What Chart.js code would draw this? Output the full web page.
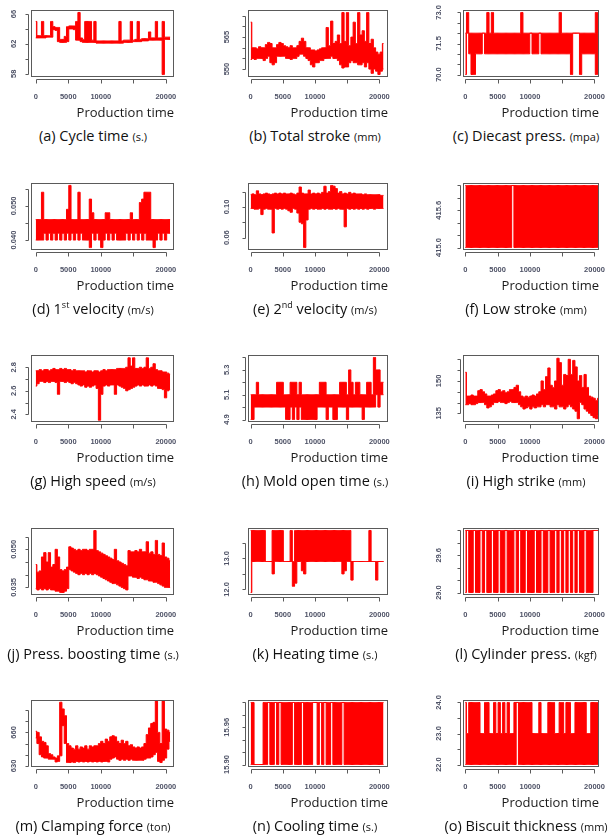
<!DOCTYPE html>
<html>
<head>
<meta charset="utf-8">
<script src="https://cdn.jsdelivr.net/npm/chart.js@4.4.1/dist/chart.umd.min.js"></script>
<style>
  html, body { margin: 0; padding: 0; background: #fff; }
  body { width: 608px; height: 839px; position: relative; overflow: hidden; font-family: "Open Sans", sans-serif; }
  canvas.panel { position: absolute; }
  .cap { position: absolute; width: 240px; text-align: center; font-size: 14.5px; color: #111; white-space: nowrap; line-height: 18px; }
  .cap small { font-size: 11px; }
  .cap sup { font-size: 9px; vertical-align: 6px; line-height: 0; }
</style>
</head>
<body>
<script>
const RED = '#ff0000';
const AXIS = '#5a5a5a';
const TICK_COLOR = '#4e5266';

// production time between two stored samples (each sample = min/max of that stretch)
const timeStep = 350;
const xTicks = [0, 5000, 10000, 15000, 20000];
const xTickLabels = ['0', '5000', '10000', '', '20000'];

// (a) cycle time
const aLow = [62.8, 62.8, 62.8, 62.8, 62.8, 62.9, 62.9, 62.9, 63.9, 63.8,
  62.3, 62.2, 62.2, 62.2, 62.3, 64.0, 64.0, 63.9, 62.5, 62.5,
  62.3, 62.2, 62.2, 62.2, 62.2, 62.2, 62.2, 62.1, 62.1, 62.1,
  62.1, 62.1, 62.1, 62.1, 62.1, 62.1, 62.1, 62.1, 62.1, 62.2,
  62.2, 62.2, 62.2, 62.3, 62.3, 62.3, 62.3, 62.4, 62.4, 62.4,
  62.5, 62.5, 62.5, 62.5, 62.5, 62.5, 57.9, 62.6, 62.6, 62.6];
const aHigh = [65.0, 63.1, 63.1, 65.0, 63.1, 63.1, 63.1, 65.0, 64.3, 64.2,
  64.2, 62.6, 62.6, 63.0, 64.3, 64.4, 64.4, 64.4, 65.0, 66.2,
  62.8, 62.6, 65.0, 65.0, 65.0, 62.5, 65.0, 62.4, 62.4, 62.4,
  62.4, 62.4, 62.4, 62.4, 62.4, 62.4, 62.4, 65.0, 62.4, 62.5,
  62.5, 62.5, 65.0, 62.5, 62.6, 65.0, 62.6, 62.7, 62.7, 62.7,
  63.6, 62.8, 62.8, 65.0, 62.8, 62.8, 65.0, 62.9, 62.9, 62.9];
const aTicks = [58, 60, 62, 64, 66];
const aTickLabels = ['58', '', '62', '', '66'];

// (b) total stroke
const bLow = [554.5, 555, 554.5, 555, 555, 555, 554, 555, 556, 553,
  552, 553, 556, 556, 556, 556, 555, 555, 554.5, 555,
  555, 556, 557, 557, 556, 555, 554, 552, 551, 553,
  553, 554, 554, 555, 555, 555, 556, 555, 555, 554,
  552, 550.5, 551, 551, 553, 554, 553, 553, 552, 552,
  553, 551, 553, 550, 548, 550, 549, 547.5, 549, 550];
const bHigh = [572, 560, 560, 559.5, 560.5, 560, 560, 561.5, 562.5, 562,
  560, 560, 561.5, 562.5, 562, 561, 560.5, 560, 561, 560,
  560, 561, 563, 564.5, 563, 560, 560, 559, 559, 558.5,
  559, 559.5, 560, 560, 569.5, 561, 572.5, 562, 563, 566,
  562, 576.5, 563, 576.5, 561, 565, 572, 562, 576.5, 566,
  568, 563, 576.5, 562, 564, 560, 558, 557, 558, 562];
const bTicks = [550, 555, 560, 565, 570, 575];
const bTickLabels = ['550', '', '', '565', '', ''];

// (c) diecast pressure
const cLow = [70, 72, 71, 70, 70, 71, 71, 71, 72, 71,
  71, 71, 71, 71, 71, 71, 71, 71, 71, 71,
  71, 71, 71, 71, 71, 71, 71, 71, 71, 72,
  71, 71, 71, 72, 71, 71, 71, 71, 71, 71,
  71, 71, 71, 71, 71, 71, 71, 70, 72, 72,
  72, 70, 71, 71, 71, 71, 71, 71, 70, 72];
const cHigh = [72, 73, 72, 72, 72, 72, 72, 72, 72, 72,
  73, 72, 73, 72, 72, 72, 72, 72, 72, 72,
  72, 72, 72, 72, 72, 73, 72, 72, 72, 72,
  72, 72, 72, 72, 72, 72, 72, 72, 72, 72,
  72, 72, 73, 72, 72, 72, 72, 72, 72, 72,
  72, 72, 72, 72, 72, 72, 72, 72, 73, 72];
const cTicks = [70, 70.5, 71, 71.5, 72, 72.5, 73];
const cTickLabels = ['70.0', '', '', '71.5', '', '', '73.0'];

// (d) 1st velocity
const dLow = [0.040, 0.040, 0.040, 0.040, 0.042, 0.040, 0.042, 0.040, 0.042, 0.040,
  0.042, 0.040, 0.042, 0.040, 0.042, 0.040, 0.042, 0.040, 0.042, 0.040,
  0.042, 0.040, 0.040, 0.040, 0.0378, 0.042, 0.040, 0.042, 0.040, 0.0378,
  0.040, 0.042, 0.040, 0.042, 0.040, 0.042, 0.040, 0.040, 0.040, 0.040,
  0.042, 0.040, 0.042, 0.040, 0.042, 0.040, 0.042, 0.040, 0.042, 0.040,
  0.040, 0.040, 0.0378, 0.040, 0.042, 0.040, 0.042, 0.040, 0.042, 0.042];
const dHigh = [0.046, 0.046, 0.046, 0.054, 0.046, 0.046, 0.046, 0.046, 0.046, 0.046,
  0.046, 0.046, 0.046, 0.046, 0.049, 0.056, 0.046, 0.046, 0.046, 0.054,
  0.046, 0.046, 0.046, 0.046, 0.052, 0.048, 0.046, 0.046, 0.046, 0.046,
  0.046, 0.048, 0.048, 0.046, 0.046, 0.046, 0.046, 0.046, 0.046, 0.046,
  0.046, 0.046, 0.048, 0.046, 0.046, 0.046, 0.051, 0.052, 0.054, 0.054,
  0.054, 0.046, 0.046, 0.046, 0.046, 0.046, 0.046, 0.046, 0.046, 0.046];
const dTicks = [0.040, 0.045, 0.050, 0.055];
const dTickLabels = ['0.040', '', '0.050', ''];

// (e) 2nd velocity
const eLow = [0.098, 0.098, 0.097, 0.097, 0.098, 0.090, 0.097, 0.098, 0.097, 0.097,
  0.066, 0.098, 0.097, 0.098, 0.097, 0.098, 0.097, 0.095, 0.093, 0.098,
  0.097, 0.092, 0.080, 0.078, 0.047, 0.083, 0.097, 0.098, 0.097, 0.098,
  0.097, 0.097, 0.098, 0.097, 0.098, 0.097, 0.097, 0.098, 0.097, 0.098,
  0.097, 0.097, 0.074, 0.098, 0.097, 0.098, 0.097, 0.098, 0.097, 0.098,
  0.097, 0.098, 0.097, 0.098, 0.098, 0.097, 0.098, 0.098, 0.098, 0.098];
const eHigh = [0.116, 0.117, 0.116, 0.121, 0.117, 0.116, 0.117, 0.118, 0.117, 0.116,
  0.117, 0.118, 0.117, 0.118, 0.117, 0.118, 0.117, 0.117, 0.118, 0.117,
  0.116, 0.118, 0.126, 0.118, 0.117, 0.117, 0.122, 0.117, 0.118, 0.117,
  0.118, 0.117, 0.119, 0.127, 0.118, 0.120, 0.128, 0.127, 0.124, 0.118,
  0.120, 0.117, 0.118, 0.117, 0.119, 0.117, 0.118, 0.117, 0.117, 0.117,
  0.116, 0.117, 0.116, 0.116, 0.116, 0.116, 0.116, 0.116, 0.115, 0.115];
const eTicks = [0.06, 0.08, 0.10, 0.12];
const eTickLabels = ['0.06', '', '0.10', ''];

// (f) low stroke
const fLow = [415.0, 415.0, 415.0, 415.0, 415.0, 415.0, 415.0, 415.0, 415.0, 415.0,
  415.0, 415.0, 415.0, 415.0, 415.0, 415.0, 415.0, 415.0, 415.0, 415.0,
  415.0, 416.0, 415.0, 415.0, 415.0, 415.0, 415.0, 415.0, 415.0, 415.0,
  415.0, 415.0, 415.0, 415.0, 415.0, 415.0, 415.0, 415.0, 415.0, 415.0,
  415.0, 415.0, 415.0, 415.0, 415.0, 415.0, 415.0, 415.0, 415.0, 415.0,
  415.0, 415.0, 415.0, 415.0, 415.0, 415.0, 415.0, 415.0, 415.0, 415.0];
const fHigh = [416.0, 416.0, 416.0, 416.0, 416.0, 416.0, 416.0, 416.0, 416.0, 416.0,
  416.0, 416.0, 416.0, 416.0, 416.0, 416.0, 416.0, 416.0, 416.0, 416.0,
  416.0, 416.0, 416.0, 416.0, 416.0, 416.0, 416.0, 416.0, 416.0, 416.0,
  416.0, 416.0, 416.0, 416.0, 416.0, 416.0, 416.0, 416.0, 416.0, 416.0,
  416.0, 416.0, 416.0, 416.0, 416.0, 416.0, 416.0, 416.0, 416.0, 416.0,
  416.0, 416.0, 416.0, 416.0, 416.0, 416.0, 416.0, 416.0, 416.0, 416.0];
const fTicks = [415.0, 415.2, 415.4, 415.6, 415.8, 416.0];
const fTickLabels = ['415.0', '', '', '415.6', '', ''];

// (g) high speed
const gLow = [2.64, 2.66, 2.68, 2.68, 2.67, 2.68, 2.67, 2.68, 2.68, 2.67,
  2.57, 2.68, 2.68, 2.67, 2.68, 2.67, 2.66, 2.67, 2.66, 2.65,
  2.64, 2.65, 2.63, 2.64, 2.63, 2.64, 2.65, 2.62, 2.35, 2.57,
  2.64, 2.65, 2.64, 2.65, 2.65, 2.57, 2.65, 2.64, 2.63, 2.62,
  2.60, 2.61, 2.62, 2.63, 2.64, 2.65, 2.64, 2.65, 2.64, 2.64,
  2.65, 2.64, 2.65, 2.64, 2.62, 2.62, 2.61, 2.54, 2.60, 2.61];
const gHigh = [2.77, 2.77, 2.78, 2.77, 2.78, 2.78, 2.77, 2.78, 2.79, 2.78,
  2.78, 2.79, 2.78, 2.79, 2.78, 2.78, 2.77, 2.78, 2.77, 2.77,
  2.77, 2.77, 2.76, 2.77, 2.77, 2.76, 2.77, 2.77, 2.76, 2.77,
  2.78, 2.77, 2.78, 2.78, 2.78, 2.78, 2.79, 2.79, 2.79, 2.79,
  2.80, 2.88, 2.81, 2.88, 2.79, 2.79, 2.80, 2.79, 2.80, 2.88,
  2.79, 2.80, 2.83, 2.78, 2.77, 2.77, 2.76, 2.76, 2.75, 2.74];
const gTicks = [2.4, 2.5, 2.6, 2.7, 2.8];
const gTickLabels = ['2.4', '', '2.6', '', '2.8'];

// (h) mold open time
const hLow = [4.9, 4.9, 5.0, 5.0, 5.0, 5.0, 5.0, 5.0, 5.0, 5.0,
  5.0, 5.0, 5.0, 5.0, 5.0, 5.0, 4.9, 4.9, 5.0, 4.9,
  5.0, 4.9, 5.0, 4.9, 4.9, 4.9, 4.9, 4.9, 4.9, 4.9,
  5.0, 5.0, 5.0, 5.0, 4.9, 5.0, 5.0, 4.9, 4.9, 5.0,
  5.0, 5.0, 5.0, 4.9, 5.0, 5.0, 5.0, 5.0, 5.0, 5.0,
  4.9, 5.0, 5.0, 5.0, 5.0, 5.0, 5.1, 5.0, 5.1, 5.1];
const hHigh = [5.1, 5.1, 5.1, 5.2, 5.1, 5.1, 5.1, 5.1, 5.1, 5.1,
  5.1, 5.1, 5.2, 5.2, 5.2, 5.1, 5.1, 5.1, 5.2, 5.2,
  5.2, 5.1, 5.2, 5.1, 5.1, 5.1, 5.1, 5.1, 5.1, 5.1,
  5.1, 5.2, 5.2, 5.2, 5.1, 5.1, 5.1, 5.1, 5.1, 5.1,
  5.2, 5.2, 5.2, 5.1, 5.3, 5.2, 5.1, 5.2, 5.2, 5.1,
  5.1, 5.1, 5.2, 5.2, 5.1, 5.4, 5.3, 5.3, 5.2, 5.2];
const hTicks = [4.9, 5.0, 5.1, 5.2, 5.3, 5.4];
const hTickLabels = ['4.9', '', '5.1', '', '5.3', ''];

// (i) high strike
const iLow = [139, 139, 139.5, 139, 139, 139.5, 140, 140, 140, 139,
  137.5, 138, 139, 140, 140, 140.5, 140, 140, 139.5, 140,
  140.5, 140, 140, 140, 139, 138, 137, 137.5, 138, 137,
  138, 137.5, 138, 138, 139, 138, 139, 139, 138, 138,
  137, 139, 138, 138, 137, 138, 139, 138, 137, 136,
  132.5, 140, 139, 137, 136, 135, 134, 133, 132.5, 134];
const iHigh = [154, 143, 143, 143.5, 143, 143, 145.5, 146, 145, 144,
  143, 143, 143.5, 144, 145.5, 146, 145, 145.5, 144.5, 145,
  146, 146, 147, 148, 145, 143, 142.5, 143, 142.5, 143,
  143.5, 143, 144, 145, 150, 146, 152, 156, 148, 147,
  150, 160.5, 158.5, 148, 153, 152.5, 160, 153, 159.5, 156.5,
  150, 152.5, 147, 153, 147, 143, 142.5, 142, 141, 142];
const iTicks = [135, 140, 145, 150, 155, 160];
const iTickLabels = ['135', '', '', '150', '', ''];

// (j) pressure boosting time
const jLow = [0.0345, 0.0340, 0.0345, 0.0340, 0.0345, 0.0340, 0.0345, 0.0340, 0.0340, 0.0335,
  0.0335, 0.0330, 0.0330, 0.0335, 0.0345, 0.0420, 0.0415, 0.0410, 0.0405, 0.0400,
  0.0405, 0.0400, 0.0405, 0.0400, 0.0405, 0.0400, 0.0405, 0.0400, 0.0395, 0.0390,
  0.0385, 0.0380, 0.0375, 0.0370, 0.0365, 0.0365, 0.0360, 0.0355, 0.0350, 0.0345,
  0.0340, 0.0395, 0.0395, 0.0390, 0.0390, 0.0385, 0.0390, 0.0385, 0.0380, 0.0380,
  0.0375, 0.0375, 0.0370, 0.0370, 0.0365, 0.0360, 0.0355, 0.0350, 0.0350, 0.0350];
const jHigh = [0.0440, 0.0410, 0.0415, 0.0470, 0.0487, 0.0450, 0.0487, 0.0430, 0.0440, 0.0500,
  0.0470, 0.0420, 0.0415, 0.0420, 0.0430, 0.0510, 0.0505, 0.0500, 0.0495, 0.0500,
  0.0495, 0.0500, 0.0500, 0.0495, 0.0500, 0.0500, 0.0574, 0.0495, 0.0490, 0.0485,
  0.0480, 0.0475, 0.0470, 0.0465, 0.0460, 0.0500, 0.0455, 0.0450, 0.0445, 0.0440,
  0.0435, 0.0495, 0.0490, 0.0490, 0.0495, 0.0490, 0.0500, 0.0490, 0.0490, 0.0530,
  0.0485, 0.0490, 0.0480, 0.0535, 0.0480, 0.0475, 0.0525, 0.0470, 0.0465, 0.0455];
const jTicks = [0.035, 0.040, 0.045, 0.050, 0.055];
const jTickLabels = ['0.035', '', '', '0.050', ''];

// (k) heating time
const kLow = [11.9, 12.9, 12.9, 12.9, 12.9, 12.9, 12.9, 12.9, 12.9, 12.9,
  12.5, 12.9, 12.9, 12.9, 12.9, 12.9, 12.9, 12.9, 12.9, 12.1,
  12.2, 12.9, 12.9, 12.6, 12.5, 12.9, 12.9, 12.9, 12.9, 12.9,
  12.9, 12.9, 12.9, 12.9, 12.9, 12.9, 12.9, 12.9, 12.9, 12.9,
  12.9, 12.5, 12.6, 12.9, 12.9, 12.3, 12.9, 12.9, 12.9, 12.9,
  12.9, 12.9, 12.9, 12.9, 12.9, 12.9, 12.3, 12.9, 12.9, 12.9];
const kHigh = [13.9, 13.9, 13.9, 13.9, 13.9, 13.9, 13.9, 12.9, 12.9, 12.9,
  13.9, 13.9, 13.9, 13.9, 13.9, 12.9, 12.9, 12.9, 13.9, 12.9,
  13.9, 13.9, 13.9, 13.9, 13.9, 13.9, 13.9, 13.9, 13.9, 13.9,
  13.9, 13.9, 13.9, 13.9, 13.9, 13.9, 13.9, 13.9, 13.9, 13.9,
  13.9, 13.9, 13.9, 13.9, 13.9, 12.9, 12.9, 12.9, 12.9, 12.9,
  12.9, 12.9, 12.9, 13.9, 12.9, 12.9, 12.9, 12.9, 12.9, 12.9];
const kTicks = [12.0, 12.5, 13.0, 13.5];
const kTickLabels = ['12.0', '', '13.0', ''];

// (l) cylinder pressure
const lLow = [29, 30, 29, 29, 30, 29, 29, 30, 29, 30,
  29, 29, 30, 29, 29, 30, 29, 29, 30, 29,
  29, 29, 30, 29, 30, 29, 29, 30, 29, 29,
  29, 30, 29, 29, 30, 29, 29, 30, 29, 29,
  30, 29, 30, 29, 30, 29, 30, 29, 30, 29,
  30, 29, 29, 30, 29, 29, 29, 30, 30, 30];
const lHigh = [30, 30, 30, 30, 30, 30, 30, 30, 30, 30,
  30, 30, 30, 30, 30, 30, 30, 30, 30, 30,
  30, 30, 30, 30, 30, 30, 30, 30, 30, 30,
  30, 30, 30, 30, 30, 30, 30, 30, 30, 30,
  30, 30, 30, 30, 30, 30, 30, 30, 30, 30,
  30, 30, 30, 30, 30, 30, 30, 30, 30, 30];
const lTicks = [29.0, 29.2, 29.4, 29.6, 29.8, 30.0];
const lTickLabels = ['29.0', '', '', '29.6', '', ''];

// (m) clamping force
const mLow = [655, 650, 640, 638, 637, 637, 636, 636, 636, 633.5,
  634, 639, 666, 650, 633, 633, 633.5, 633, 634, 633.5,
  634, 633.5, 634, 633.5, 634, 633.5, 634, 633.5, 634, 633.5,
  634, 634, 633.5, 636, 637, 638, 636, 635, 636, 635,
  636, 635, 636, 635, 635, 635, 635, 635, 636, 637,
  637, 638, 640, 642, 634, 633, 635, 637, 645, 652];
const mHigh = [661, 660, 656, 652, 651, 648, 641, 640, 638, 637,
  639, 687, 681, 675, 650, 648, 646, 645, 648, 645,
  647, 646, 648, 645, 648, 647, 648, 648, 650, 652,
  650, 654, 652, 656, 657, 656, 652, 650, 653, 650,
  652, 648, 649, 647, 646, 647, 646, 647, 650, 658,
  664, 668, 669, 688, 660, 650, 688, 663, 662, 660];
const mTicks = [630, 640, 650, 660, 670, 680];
const mTickLabels = ['630', '', '', '660', '', ''];

// (n) cooling time
const nLow = [15.90, 15.90, 15.90, 15.90, 15.90, 15.90, 15.90, 15.90, 16.00, 15.90,
  15.90, 16.00, 15.90, 16.00, 15.90, 15.90, 15.90, 15.90, 15.90, 16.00,
  15.90, 15.90, 15.90, 16.00, 15.90, 15.90, 15.90, 15.90, 16.00, 16.00,
  15.90, 16.00, 15.90, 16.00, 15.90, 15.90, 16.00, 15.90, 15.90, 15.90,
  15.90, 16.00, 15.90, 15.90, 15.90, 15.90, 15.90, 15.90, 15.90, 15.90,
  15.90, 15.90, 15.90, 15.90, 15.90, 15.90, 15.90, 15.90, 15.90, 15.90];
const nHigh = [16.00, 16.00, 15.90, 15.90, 15.90, 15.90, 16.00, 16.00, 16.00, 16.00,
  16.00, 16.00, 16.00, 16.00, 16.00, 16.00, 16.00, 16.00, 16.00, 16.00,
  16.00, 16.00, 16.00, 16.00, 16.00, 16.00, 16.00, 16.00, 16.00, 16.00,
  16.00, 16.00, 16.00, 16.00, 16.00, 16.00, 16.00, 16.00, 16.00, 16.00,
  16.00, 16.00, 16.00, 16.00, 16.00, 16.00, 16.00, 16.00, 16.00, 16.00,
  16.00, 16.00, 16.00, 16.00, 16.00, 16.00, 16.00, 16.00, 16.00, 16.00];
const nTicks = [15.90, 15.92, 15.94, 15.96, 15.98, 16.00];
const nTickLabels = ['15.90', '', '', '15.96', '', ''];

// (o) biscuit thickness
const oLow = [22, 22, 22, 22, 22, 22, 22, 22, 22, 22,
  22, 22, 22, 22, 22, 22, 22, 22, 22, 22,
  22, 22, 22, 24, 22, 22, 22, 22, 22, 22,
  22, 22, 22, 22, 22, 22, 22, 22, 22, 22,
  22, 22, 22, 22, 22, 22, 22, 22, 22, 22,
  22, 22, 22, 22, 22, 22, 22, 22, 22, 22];
const oHigh = [24, 23, 24, 24, 24, 24, 24, 23, 23, 24,
  24, 23, 23, 24, 23, 24, 23, 24, 23, 24,
  23, 23, 24, 24, 24, 24, 24, 24, 24, 24,
  23, 23, 23, 24, 23, 23, 23, 24, 24, 24,
  23, 23, 24, 24, 23, 24, 24, 23, 23, 24,
  24, 24, 24, 24, 23, 23, 24, 24, 24, 24];
const oTicks = [22.0, 22.5, 23.0, 23.5, 24.0];
const oTickLabels = ['22.0', '', '23.0', '', '24.0'];

// layout of the 5 x 3 grid
const colCanvasX = [0, 203, 406];
const colCanvasW = [203, 203, 202];
const colBoxL = [31, 248, 463];
const colBoxR = [174, 388, 599];
const colXMin = [-730, -420, -360];
const colXMax = [21250, 21350, 20700];
const colLabelGap = [17.5, 21, 24];
const colCapX = [93, 315, 526];
const rowBoxTop = [10, 183, 355, 528, 700];
const BOX_H = 67;
const TOP_PAD = 8;
const X_AXIS_H = 46;

const panels = [
  { lo: aLow, hi: aHigh, ticks: aTicks, labels: aTickLabels, min: 57.57, max: 66.53, cap: '(a) Cycle time <small>(s.)</small>' },
  { lo: bLow, hi: bHigh, ticks: bTicks, labels: bTickLabels, min: 546.3, max: 577.7, cap: '(b) Total stroke <small>(mm)</small>' },
  { lo: cLow, hi: cHigh, ticks: cTicks, labels: cTickLabels, min: 69.88, max: 73.12, cap: '(c) Diecast press. <small>(mpa)</small>' },
  { lo: dLow, hi: dHigh, ticks: dTicks, labels: dTickLabels, min: 0.0371, max: 0.0567, cap: '(d) 1<sup>st</sup> velocity <small>(m/s)</small>' },
  { lo: eLow, hi: eHigh, ticks: eTicks, labels: eTickLabels, min: 0.0438, max: 0.1312, cap: '(e) 2<sup>nd</sup> velocity <small>(m/s)</small>' },
  { lo: fLow, hi: fHigh, ticks: fTicks, labels: fTickLabels, min: 414.96, max: 416.04, cap: '(f) Low stroke <small>(mm)</small>' },
  { lo: gLow, hi: gHigh, ticks: gTicks, labels: gTickLabels, min: 2.335, max: 2.904, cap: '(g) High speed <small>(m/s)</small>' },
  { lo: hLow, hi: hHigh, ticks: hTicks, labels: hTickLabels, min: 4.88, max: 5.42, cap: '(h) Mold open time <small>(s.)</small>' },
  { lo: iLow, hi: iHigh, ticks: iTicks, labels: iTickLabels, min: 131.0, max: 162.0, cap: '(i) High strike <small>(mm)</small>' },
  { lo: jLow, hi: jHigh, ticks: jTicks, labels: jTickLabels, min: 0.0320, max: 0.0584, cap: '(j) Press. boosting time <small>(s.)</small>' },
  { lo: kLow, hi: kHigh, ticks: kTicks, labels: kTickLabels, min: 11.82, max: 13.98, cap: '(k) Heating time <small>(s.)</small>' },
  { lo: lLow, hi: lHigh, ticks: lTicks, labels: lTickLabels, min: 28.96, max: 30.04, cap: '(l) Cylinder press. <small>(kgf)</small>' },
  { lo: mLow, hi: mHigh, ticks: mTicks, labels: mTickLabels, min: 629, max: 689, cap: '(m) Clamping force <small>(ton)</small>' },
  { lo: nLow, hi: nHigh, ticks: nTicks, labels: nTickLabels, min: 15.896, max: 16.004, cap: '(n) Cooling time <small>(s.)</small>' },
  { lo: oLow, hi: oHigh, ticks: oTicks, labels: oTickLabels, min: 21.92, max: 24.08, cap: '(o) Biscuit thickness <small>(mm)</small>' }
];

// R-like frame: box round the plot region, detached axis lines, rotated y labels
function makeFrame(p, gap) {
  return {
    id: 'rFrame',
    afterDatasetsDraw(chart) {
      const { ctx, chartArea: a } = chart;
      ctx.save();
      ctx.strokeStyle = AXIS;
      ctx.lineWidth = 1;
      ctx.strokeRect(Math.round(a.left) + 0.5, Math.round(a.top) + 0.5,
        Math.round(a.right - a.left) - 1, Math.round(a.bottom - a.top) - 1);
      ctx.restore();
    },
    afterDraw(chart) {
      const { ctx, chartArea: a, scales: { x, y } } = chart;
      ctx.save();
      ctx.strokeStyle = AXIS;
      ctx.lineWidth = 1;
      ctx.beginPath();
      const ay = Math.round(a.bottom) + 2.5;
      ctx.moveTo(Math.round(x.getPixelForValue(xTicks[0])) + 0.5, ay);
      ctx.lineTo(Math.round(x.getPixelForValue(xTicks[xTicks.length - 1])) + 0.5, ay);
      xTicks.forEach(v => {
        const px = Math.round(x.getPixelForValue(v)) + 0.5;
        ctx.moveTo(px, ay);
        ctx.lineTo(px, ay + 4);
      });
      const ax = Math.round(a.left) - 2.5;
      ctx.moveTo(ax, Math.round(y.getPixelForValue(p.ticks[0])) + 0.5);
      ctx.lineTo(ax, Math.round(y.getPixelForValue(p.ticks[p.ticks.length - 1])) + 0.5);
      p.ticks.forEach(v => {
        const py = Math.round(y.getPixelForValue(v)) + 0.5;
        ctx.moveTo(ax, py);
        ctx.lineTo(ax - 3, py);
      });
      ctx.stroke();

      ctx.fillStyle = TICK_COLOR;
      ctx.font = 'bold 7.5px "Liberation Sans", Arial, sans-serif';
      ctx.textAlign = 'center';
      ctx.textBaseline = 'middle';
      p.labels.forEach((s, i) => {
        if (!s) return;
        ctx.save();
        ctx.translate(a.left - gap, y.getPixelForValue(p.ticks[i]));
        ctx.rotate(-Math.PI / 2);
        ctx.fillText(s, 0, 0);
        ctx.restore();
      });
      ctx.restore();
    }
  };
}

panels.forEach((p, n) => {
  const col = n % 3;
  const row = Math.floor(n / 3);
  const canvas = document.createElement('canvas');
  canvas.className = 'panel';
  const w = colCanvasW[col];
  const h = TOP_PAD + BOX_H + X_AXIS_H + 3;
  canvas.width = w;
  canvas.height = h;
  canvas.style.left = colCanvasX[col] + 'px';
  canvas.style.top = (rowBoxTop[row] - TOP_PAD) + 'px';
  canvas.style.width = w + 'px';
  canvas.style.height = h + 'px';
  document.body.appendChild(canvas);

  const yWidth = colBoxL[col] - colCanvasX[col];
  const padRight = colCanvasX[col] + w - colBoxR[col];

  new Chart(canvas.getContext('2d'), {
    type: 'line',
    data: {
      datasets: [
        {
          data: p.hi.map((v, i) => ({ x: i * timeStep, y: v })),
          borderColor: RED,
          backgroundColor: RED,
          borderWidth: 1,
          pointRadius: 0,
          stepped: 'middle',
          fill: '+1'
        },
        {
          data: p.lo.map((v, i) => ({ x: i * timeStep, y: v })),
          borderColor: RED,
          borderWidth: 1,
          pointRadius: 0,
          stepped: 'middle',
          fill: false
        }
      ]
    },
    options: {
      responsive: false,
      animation: false,
      devicePixelRatio: 1,
      events: [],
      layout: {
        padding: { left: 0, top: TOP_PAD, right: padRight, bottom: 3 }
      },
      plugins: {
        legend: { display: false },
        tooltip: { enabled: false }
      },
      scales: {
        x: {
          type: 'linear',
          min: colXMin[col],
          max: colXMax[col],
          afterBuildTicks: s => { s.ticks = xTicks.map(v => ({ value: v })); },
          afterFit: s => {
            s.height = X_AXIS_H;
            s.paddingLeft = 0;
            s.paddingRight = 0;
          },
          grid: { display: false, drawTicks: true, tickLength: 8 },
          border: { display: false },
          ticks: {
            autoSkip: false,
            maxRotation: 0,
            minRotation: 0,
            padding: 7,
            color: TICK_COLOR,
            font: { family: '"Liberation Sans", Arial, sans-serif', size: 7.5, weight: 'bold' },
            callback: (v, i) => xTickLabels[i]
          },
          title: {
            display: true,
            text: 'Production time',
            align: 'end',
            color: '#1a1a1a',
            font: { family: '"Open Sans", sans-serif', size: 13 },
            padding: { top: 0, bottom: 2 }
          }
        },
        y: {
          min: p.min,
          max: p.max,
          afterBuildTicks: s => { s.ticks = p.ticks.map(v => ({ value: v })); },
          afterFit: s => {
            s.width = yWidth;
            s.paddingTop = 0;
            s.paddingBottom = 0;
          },
          grid: { display: false },
          border: { display: false },
          ticks: { display: false }
        }
      }
    },
    plugins: [makeFrame(p, colLabelGap[col])]
  });

  const cap = document.createElement('div');
  cap.className = 'cap';
  cap.innerHTML = p.cap;
  cap.style.left = (colCapX[col] - 120) + 'px';
  cap.style.top = (rowBoxTop[row] + BOX_H + 59 - 9) + 'px';
  document.body.appendChild(cap);
});
</script>
</body>
</html>
